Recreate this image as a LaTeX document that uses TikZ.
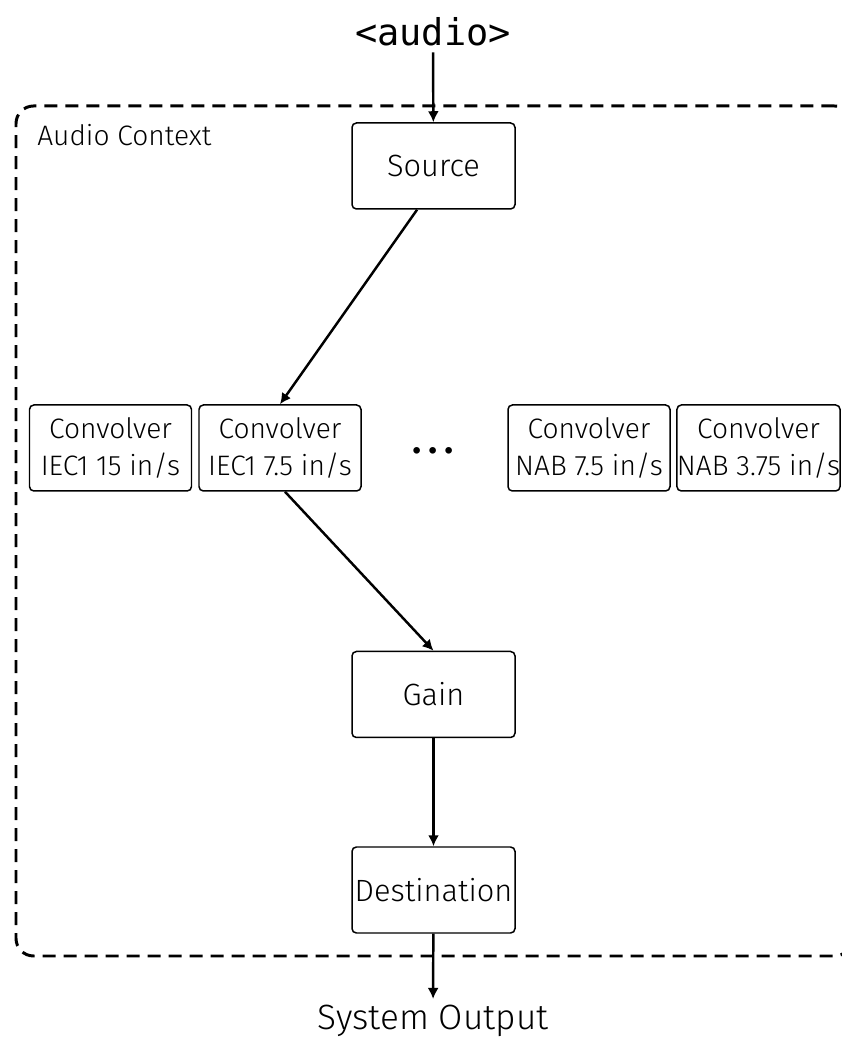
\documentclass[tikz,border=0pt]{standalone}
\usepackage{fontspec}
\setmainfont{Fira Sans Light}
\newfontfamily\codeFont{DejaVu Sans Mono}
\usetikzlibrary{
    arrows.meta,
    positioning,
    calc
}
\definecolor{lineBlack}{RGB}{0, 0, 0}
\definecolor{bgWhite}{RGB}{255, 255, 255}
\def\picW{16.84}
\def\picH{21.04}
\tikzset{
    block/.style={
        rectangle,
        rounded corners=2.5pt,
        draw=lineBlack,
        line width=0.85pt,
        fill=bgWhite,
        minimum width=3.26cm,
        minimum height=1.72cm,
        inner sep=1pt,
        text centered,
        font=\fontsize{17.5}{22}\selectfont
    },
    convBlock/.style={
        block,
        minimum width=3.24cm,
        align=center,
        inner sep=0pt,
        font=\fontsize{16}{21}\selectfont
    },
    contextBox/.style={
        rectangle,
        rounded corners=10pt,
        draw=lineBlack,
        line width=1.7pt,
        dash pattern=on 0.26cm off 0.16cm,
        minimum width=16.72cm,
        minimum height=17cm
    },
    flowArrow/.style={
        draw=lineBlack,
        line width=1.4pt,
        -{Latex[length=2.2mm, width=2.2mm]}
    }
}
\begin{document}
\begin{tikzpicture}
    \useasboundingbox (0,0) rectangle (\picW, \picH);
    \fill[bgWhite] (0,0) rectangle (\picW, \picH);

    % Container
    \node[contextBox] (container) at (8.68, 10.42) {};
    \node[anchor=west, inner sep=0pt, font=\fontsize{16}{18}\selectfont] (ctxLabel) at (0.74, 18.34) {Audio Context};

    % 1. Input element (Top)
    \node[font=\codeFont\fontsize{21}{24}\selectfont] (audioTag) at (8.66, 20.40) {<audio>};

    % 2. Source
    \node[block] (source) at (8.67, 17.72) {Source};

    % 3. Convolvers (one per curve)
    \node[convBlock] (convA) at (2.21, 12.08) {Convolver\\IEC1 15 in/s};
    \node[convBlock] (convB) at (5.60, 12.08) {Convolver\\IEC1 7.5 in/s};
    \node[font=\fontseries{b}\fontsize{22}{24}\selectfont] (dots) at (8.66, 12.02) {.\,.\,.};
    \node[convBlock] (convC) at (11.78, 12.08) {Convolver\\NAB 7.5 in/s};
    \node[convBlock] (convD) at (15.17, 12.08) {Convolver\\NAB 3.75 in/s};

    % 4. Gain and Destination
    \node[block] (gain) at (8.67, 7.15) {Gain};
    \node[block] (dest) at (8.67, 3.24) {Destination};

    % 5. Output (Bottom)
    \node[font=\fontsize{20}{24}\selectfont] (sysOut) at (8.66, 0.62) {System Output};

    % Connections
    \draw[flowArrow] (audioTag) -- (source);
    \draw[flowArrow] ($(source.south west)!0.4!(source.south east)$) -- (convB.north);
    \draw[flowArrow] ($(convB.south)+(0.1,0)$) -- (gain.north);
    \draw[flowArrow] (gain) -- (dest);
    \draw[flowArrow] (dest) -- (sysOut);
\end{tikzpicture}
\end{document}
